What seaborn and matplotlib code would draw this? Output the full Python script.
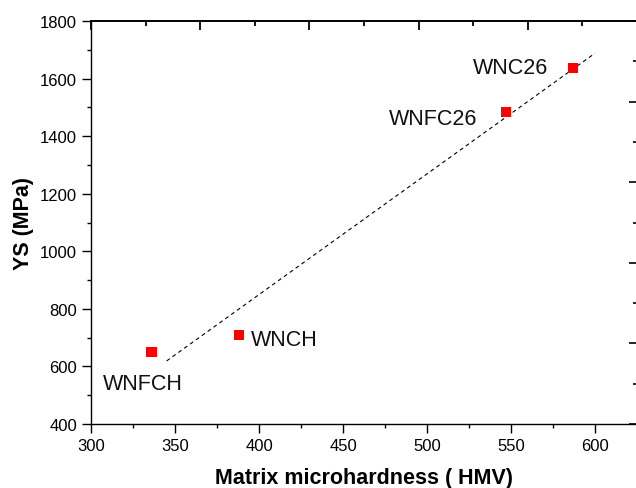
import numpy as np
import pandas as pd
import matplotlib
matplotlib.use("Agg")
import matplotlib.pyplot as plt
import seaborn as sns
from matplotlib.ticker import MultipleLocator

# ---- data ----
samples = ["WNC26", "WNFC26", "WNCH", "WNFCH"]
hardness = [587, 547, 388, 336]
yield_strength = [1637, 1484, 709, 650]
fit_x_range = [345, 600]

# label placement (data coords) and alignment
label_x = [572, 530, 395, 331]
label_y = [1637, 1463, 692, 541]
label_ha = ["right", "right", "left", "center"]

sns.set_theme(style="white")
plt.rcParams['font.family'] = ['Liberation Sans', 'DejaVu Sans']

df = pd.DataFrame({"sample": samples, "HMV": hardness, "YS": yield_strength})

fig = plt.figure(figsize=(6.36, 4.89), dpi=100)
ax = fig.add_axes([91 / 636, 1 - 425 / 489, (637 - 91) / 636, 403 / 489])

# linear fit
slope, intercept = np.polyfit(df["HMV"], df["YS"], 1)
fx = np.array(fit_x_range, dtype=float)
fit_df = pd.DataFrame({"x": fx, "y": slope * fx + intercept})
sns.lineplot(data=fit_df, x="x", y="y", ax=ax, color="black", lw=0.8,
             dashes=False, linestyle=(0, (3.5, 3)))

sns.scatterplot(data=df, x="HMV", y="YS", ax=ax, marker="s", s=55,
                color="#ff0000", edgecolor="none", zorder=3)

for s, x, y, ha in zip(samples, label_x, label_y, label_ha):
    ax.text(x, y, s, ha=ha, va="center", fontsize=15.5, color="#111111")

XMIN, XMAX, YMIN, YMAX = 300, 625, 400, 1800
ax.set_xlim(XMIN, XMAX)
ax.set_ylim(YMIN, YMAX)
ax.xaxis.set_major_locator(MultipleLocator(50))
ax.xaxis.set_minor_locator(MultipleLocator(25))
ax.yaxis.set_major_locator(MultipleLocator(200))
ax.yaxis.set_minor_locator(MultipleLocator(100))

ax.tick_params(axis="both", which="major", direction="out", length=6.5,
               width=1.0, labelsize=12, colors="black", bottom=True, left=True,
               top=False, right=False)
ax.tick_params(axis="both", which="minor", direction="out", length=3.2,
               width=1.0, bottom=True, left=True, top=False, right=False,
               colors="black")

ax.set_xlabel("Matrix microhardness ( HMV)", fontsize=15.5, fontweight="bold",
              labelpad=10, color="black")
ax.set_ylabel("YS (MPa)", fontsize=15.5, fontweight="bold", labelpad=4,
              color="black")

for side in ["left", "bottom", "top"]:
    ax.spines[side].set_visible(True)
    ax.spines[side].set_color("black")
    ax.spines[side].set_linewidth(1.0)
ax.spines["top"].set_linewidth(1.4)
ax.spines["right"].set_visible(False)

# top frame ticks (inward, 10 equal divisions, alternating major/minor)
ax_h_px = 403.0
for i, fr in enumerate(np.linspace(0, 1, 11)):
    ln = (9.0 if i % 2 == 0 else 5.0) / ax_h_px
    ax.plot([fr, fr], [1.0, 1.0 - ln], transform=ax.transAxes, color="black",
            lw=1.3, clip_on=False, zorder=6, solid_capstyle="butt")

# right axis ticks (inward, independent scale: 10 equal divisions)
ysd = (YMAX - YMIN) / 10.0
axr = ax.secondary_yaxis("right", functions=(lambda y: (y - YMIN) / ysd,
                                              lambda t: YMIN + t * ysd))
axr.yaxis.set_major_locator(MultipleLocator(2))
axr.yaxis.set_minor_locator(MultipleLocator(1))
axr.tick_params(axis="y", which="major", direction="in", length=6, width=1.2,
                right=True, labelright=False, colors="black")
axr.tick_params(axis="y", which="minor", direction="in", length=3, width=1.2,
                right=True, labelright=False, colors="black")
axr.spines["right"].set_visible(False)

fig.savefig("out.png", dpi=100, facecolor="white")
